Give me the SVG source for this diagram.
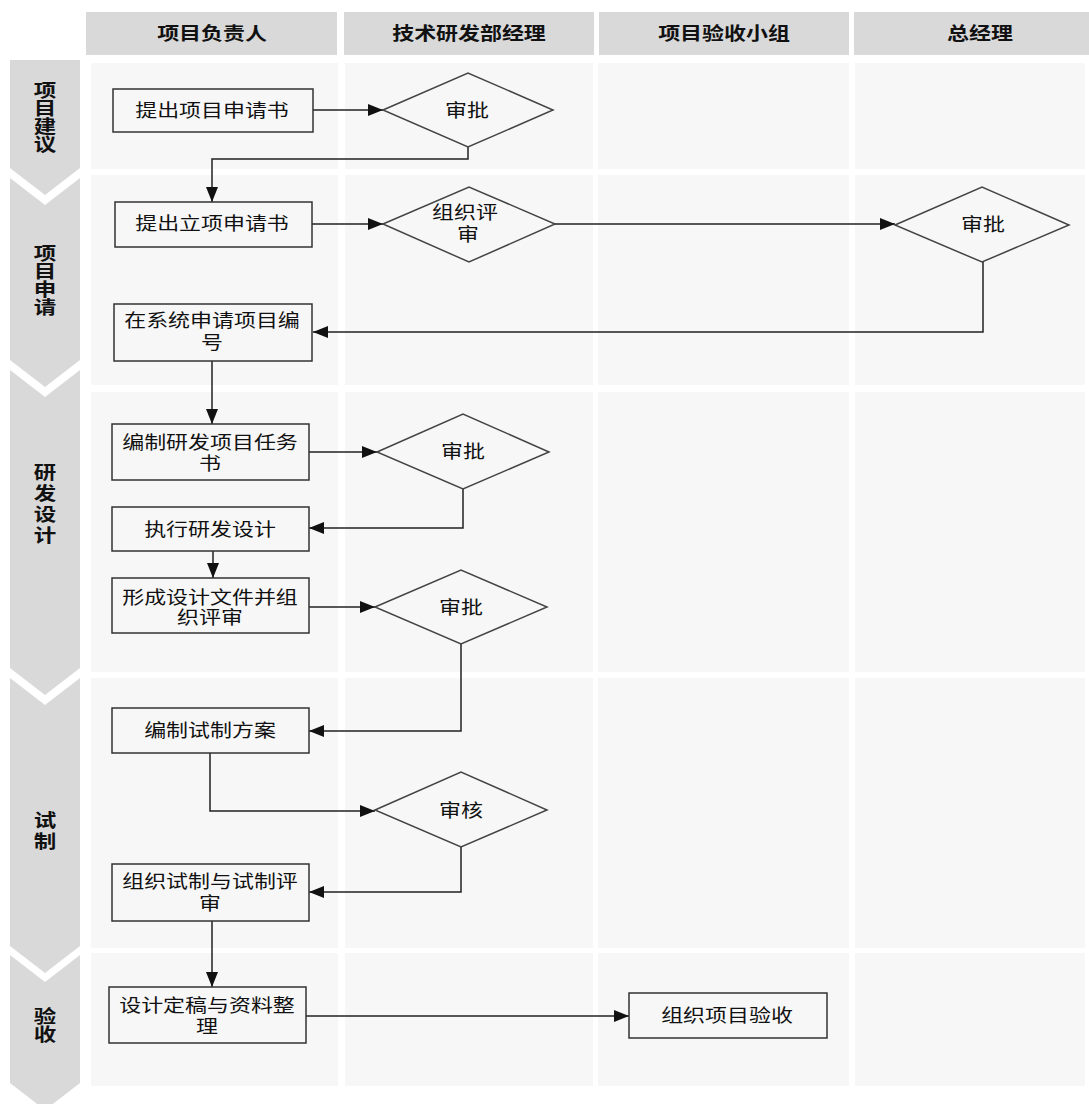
<svg xmlns="http://www.w3.org/2000/svg" width="1089" height="1104" viewBox="0 0 1089 1104">
<style>
.hdr{fill:#d9d9d9}
.cell{fill:#f7f7f7}
.chev{fill:#d9d9d9}
.box{fill:#f7f7f7;stroke:#333;stroke-width:1.5}
.dia{fill:#f7f7f7;stroke:#444;stroke-width:1.5}
.t{font-family:"Noto Sans CJK SC","Noto Sans",sans-serif;font-size:18px;fill:#111;text-anchor:middle}
.h{font-family:"Noto Sans CJK SC","Noto Sans",sans-serif;font-size:18px;font-weight:bold;fill:#111;text-anchor:middle}
.v{font-family:"Noto Sans CJK SC","Noto Sans",sans-serif;font-size:18px;font-weight:bold;fill:#111;text-anchor:middle;writing-mode:vertical-rl}
.ln{fill:none;stroke:#222;stroke-width:1.5}
</style>
<defs>
<marker id="ah" markerUnits="userSpaceOnUse" markerWidth="16" markerHeight="12" refX="15" refY="6" orient="auto">
<path d="M0,0 L15,6 L0,12 z" fill="#111"/>
</marker>
</defs>
<rect width="1089" height="1104" fill="#ffffff"/>
<g id="headers">
<rect class="hdr" x="86" y="12" width="251" height="43"/>
<rect class="hdr" x="344" y="12" width="250" height="43"/>
<rect class="hdr" x="599" y="12" width="250" height="43"/>
<rect class="hdr" x="854" y="12" width="252" height="43"/>
<text class="h" transform="translate(212,40) scale(1.22,1)">项目负责人</text>
<text class="h" transform="translate(469,40) scale(1.22,1)">技术研发部经理</text>
<text class="h" transform="translate(724,40) scale(1.22,1)">项目验收小组</text>
<text class="h" transform="translate(980,40) scale(1.22,1)">总经理</text>
</g>
<g id="cells">
<rect class="cell" x="91" y="63" width="247" height="106"/>
<rect class="cell" x="345" y="63" width="248" height="106"/>
<rect class="cell" x="598" y="63" width="251" height="106"/>
<rect class="cell" x="855" y="63" width="230" height="106"/>
<rect class="cell" x="91" y="175" width="247" height="210"/>
<rect class="cell" x="345" y="175" width="248" height="210"/>
<rect class="cell" x="598" y="175" width="251" height="210"/>
<rect class="cell" x="855" y="175" width="230" height="210"/>
<rect class="cell" x="91" y="392" width="247" height="280"/>
<rect class="cell" x="345" y="392" width="248" height="280"/>
<rect class="cell" x="598" y="392" width="251" height="280"/>
<rect class="cell" x="855" y="392" width="230" height="280"/>
<rect class="cell" x="91" y="678" width="247" height="270"/>
<rect class="cell" x="345" y="678" width="248" height="270"/>
<rect class="cell" x="598" y="678" width="251" height="270"/>
<rect class="cell" x="855" y="678" width="230" height="270"/>
<rect class="cell" x="91" y="953" width="247" height="133"/>
<rect class="cell" x="345" y="953" width="248" height="133"/>
<rect class="cell" x="598" y="953" width="251" height="133"/>
<rect class="cell" x="855" y="953" width="230" height="133"/>
</g>
<g id="phases">
<polygon class="chev" points="10,60 80,60 80,168 45,195 10,168"/>
<polygon class="chev" points="10,178 45,205 80,178 80,360 45,387 10,360"/>
<polygon class="chev" points="10,370 45,397 80,370 80,668 45,695 10,668"/>
<polygon class="chev" points="10,678 45,705 80,678 80,946 45,973 10,946"/>
<polygon class="chev" points="10,955 45,982 80,955 80,1083 45,1110 10,1083"/>
<text class="v" transform="translate(45,117) scale(1.25,1)">项目建议</text>
<text class="v" transform="translate(45,280) scale(1.25,1)">项目申请</text>
<text class="v" transform="translate(45,505) scale(1.25,1)" letter-spacing="3">研发设计</text>
<text class="v" transform="translate(45,832) scale(1.25,1)" letter-spacing="3">试制</text>
<text class="v" transform="translate(45,1025) scale(1.25,1)">验收</text>
</g>
<g id="connectors">
<path class="ln" marker-end="url(#ah)" d="M313,110 H383"/>
<path class="ln" marker-end="url(#ah)" d="M468,147 V159 H212 V202"/>
<path class="ln" marker-end="url(#ah)" d="M312,224 H383"/>
<path class="ln" marker-end="url(#ah)" d="M555,224 H895"/>
<path class="ln" marker-end="url(#ah)" d="M983,262 V332 H313"/>
<path class="ln" marker-end="url(#ah)" d="M212,361 V424"/>
<path class="ln" marker-end="url(#ah)" d="M309,452 H377"/>
<path class="ln" marker-end="url(#ah)" d="M463,489 V528 H309"/>
<path class="ln" marker-end="url(#ah)" d="M213,551 V578"/>
<path class="ln" marker-end="url(#ah)" d="M309,607 H375"/>
<path class="ln" marker-end="url(#ah)" d="M461,644 V731 H309"/>
<path class="ln" marker-end="url(#ah)" d="M210,753 V811 H375"/>
<path class="ln" marker-end="url(#ah)" d="M461,847 V892 H309"/>
<path class="ln" marker-end="url(#ah)" d="M212,921 V987"/>
<path class="ln" marker-end="url(#ah)" d="M306,1016 H629"/>
</g>
<g id="n1"><rect class="box" x="113" y="89" width="200" height="43"/><text class="t" transform="translate(212,117) scale(1.22,1)">提出项目申请书</text></g>
<g id="n2"><polygon class="dia" points="383,110 468,73 553,110 468,147"/><text class="t" transform="translate(467,117) scale(1.22,1)">审批</text></g>
<g id="n3"><rect class="box" x="115" y="202" width="197" height="45"/><text class="t" transform="translate(212,230) scale(1.22,1)">提出立项申请书</text></g>
<g id="n4"><polygon class="dia" points="383,224 469,187 555,224 469,262"/><text class="t" transform="translate(465,219) scale(1.22,1)"><tspan x="0" y="0">组织评</tspan><tspan x="2.5" y="22">审</tspan></text></g>
<g id="n5"><polygon class="dia" points="895,225 982,187 1069,225 982,262"/><text class="t" transform="translate(983,231) scale(1.22,1)">审批</text></g>
<g id="n6"><rect class="box" x="114" y="304" width="198" height="57"/><text class="t" transform="translate(212,327) scale(1.22,1)"><tspan x="0" y="0">在系统申请项目编</tspan><tspan x="0" y="22">号</tspan></text></g>
<g id="n7"><rect class="box" x="112" y="424" width="197" height="56"/><text class="t" transform="translate(210,449) scale(1.22,1)"><tspan x="0" y="0">编制研发项目任务</tspan><tspan x="0" y="21">书</tspan></text></g>
<g id="n8"><polygon class="dia" points="377,452 463,414 549,452 463,489"/><text class="t" transform="translate(463,458) scale(1.22,1)">审批</text></g>
<g id="n9"><rect class="box" x="112" y="507" width="197" height="44"/><text class="t" transform="translate(210,536) scale(1.22,1)">执行研发设计</text></g>
<g id="n10"><rect class="box" x="112" y="578" width="197" height="55"/><text class="t" transform="translate(210,604) scale(1.22,1)"><tspan x="0" y="0">形成设计文件并组</tspan><tspan x="0" y="20">织评审</tspan></text></g>
<g id="n11"><polygon class="dia" points="375,607 461,570 547,607 461,644"/><text class="t" transform="translate(461,614) scale(1.22,1)">审批</text></g>
<g id="n12"><rect class="box" x="112" y="708" width="197" height="45"/><text class="t" transform="translate(210,737) scale(1.22,1)">编制试制方案</text></g>
<g id="n13"><polygon class="dia" points="375,810 461,772 547,810 461,847"/><text class="t" transform="translate(461,817) scale(1.22,1)">审核</text></g>
<g id="n14"><rect class="box" x="112" y="864" width="197" height="57"/><text class="t" transform="translate(210,888) scale(1.22,1)"><tspan x="0" y="0">组织试制与试制评</tspan><tspan x="0" y="22">审</tspan></text></g>
<g id="n15"><rect class="box" x="109" y="987" width="197" height="56"/><text class="t" transform="translate(207,1012) scale(1.22,1)"><tspan x="0" y="0">设计定稿与资料整</tspan><tspan x="0" y="21">理</tspan></text></g>
<g id="n16"><rect class="box" x="629" y="993" width="198" height="45"/><text class="t" transform="translate(727,1022) scale(1.22,1)">组织项目验收</text></g>
</svg>
